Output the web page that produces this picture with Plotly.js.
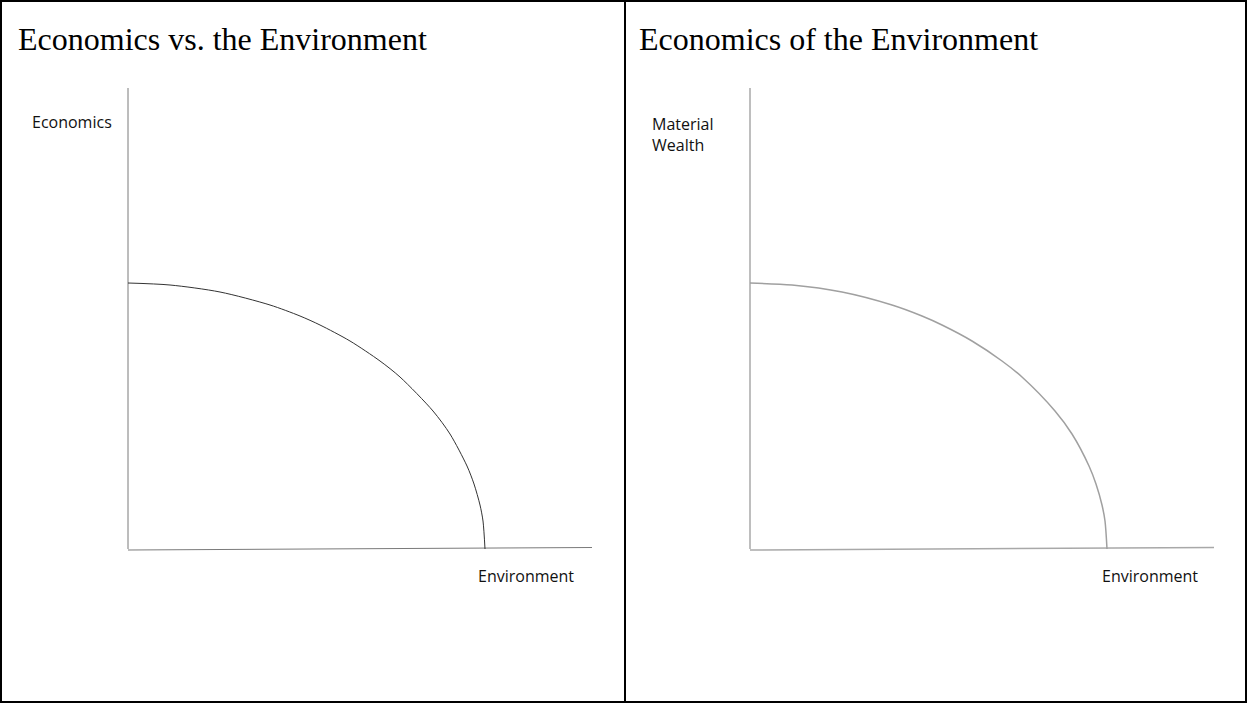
<!DOCTYPE html>
<html>
<head>
<meta charset="utf-8">
<script src="https://cdn.plot.ly/plotly-3.0.1.min.js"></script>
<style>html,body{margin:0;padding:0;background:#fff}#chart{width:1248px;height:704px}</style>
</head>
<body>
<div id="chart"></div>
<script>
// Panel titles and axis labels
const panelTitles = ["Economics vs. the Environment", "Economics of the Environment"];
const yLabels = ["Economics", "Material<br>Wealth"];
const xLabels = ["Environment", "Environment"];

// Axis lines (units measured from the origin of each diagram)
const vAxisX = [0, 0];
const vAxisY = [0, 461];
const hAxisX = [0, 464];
const hAxisY = [-1, 1.5];

// Production-possibility frontier
const frontierEnv = [0, 42, 92, 142, 172, 192, 222, 252, 272, 305, 322, 339, 346, 352, 355, 357];
const frontierEcon = [266, 264, 257, 244, 233, 224, 208, 188, 172, 138, 115, 83, 65, 44, 28, 0];

const traces = [];
function addPanel(xa, ya, axisColor, curveColor, axisW, curveW) {
  traces.push({x: vAxisX, y: vAxisY, xaxis: xa, yaxis: ya, mode: 'lines',
    line: {color: axisColor, width: axisW}, hoverinfo: 'skip', showlegend: false});
  traces.push({x: hAxisX, y: hAxisY, xaxis: xa, yaxis: ya, mode: 'lines',
    line: {color: axisColor, width: axisW}, hoverinfo: 'skip', showlegend: false});
  traces.push({x: frontierEnv, y: frontierEcon, xaxis: xa, yaxis: ya, mode: 'lines',
    line: {color: curveColor, width: curveW, shape: 'spline', smoothing: 0.8}, hoverinfo: 'skip', showlegend: false});
}
addPanel('x', 'y', '#7a7a7a', '#333333', 1, 1);
addPanel('x2', 'y2', '#a8a8a8', '#a0a0a0', 1.5, 1.5);

const hidden = {visible: false, fixedrange: true};
const labelFont = {family: 'Open Sans, sans-serif', size: 16, color: '#111'};
const titleFont = {family: 'Liberation Serif, Times New Roman, serif', size: 32, color: '#000'};

const layout = {
  width: 1248, height: 704,
  margin: {l: 0, r: 0, t: 0, b: 0},
  paper_bgcolor: '#fff', plot_bgcolor: '#fff',
  xaxis: Object.assign({domain: [0, 0.5], range: [-128, 496]}, hidden),
  yaxis: Object.assign({domain: [0, 1], range: [-155, 549]}, hidden),
  xaxis2: Object.assign({domain: [0.5, 1], range: [-126, 498]}, hidden),
  yaxis2: Object.assign({domain: [0, 1], range: [-155, 549], anchor: 'x2'}, hidden),
  showlegend: false,
  annotations: [
    {text: panelTitles[0], xref: 'paper', yref: 'paper', x: 16/1248, y: 1 - 39/704, xanchor: 'left', yanchor: 'middle', showarrow: false, font: titleFont},
    {text: panelTitles[1], xref: 'paper', yref: 'paper', x: 637/1248, y: 1 - 39/704, xanchor: 'left', yanchor: 'middle', showarrow: false, font: titleFont},
    {text: yLabels[0], xref: 'x', yref: 'y', x: -98, y: 427, xanchor: 'left', yanchor: 'middle', showarrow: false, font: labelFont},
    {text: xLabels[0], xref: 'x', yref: 'y', x: 348, y: -27, xanchor: 'left', yanchor: 'middle', showarrow: false, font: labelFont},
    {text: yLabels[1], xref: 'x2', yref: 'y2', x: -100, y: 415, xanchor: 'left', yanchor: 'middle', align: 'left', showarrow: false, font: labelFont},
    {text: xLabels[1], xref: 'x2', yref: 'y2', x: 350, y: -27, xanchor: 'left', yanchor: 'middle', showarrow: false, font: labelFont}
  ],
  shapes: [
    {type: 'rect', xref: 'paper', yref: 'paper', x0: 1/1248, x1: 1246/1248, y0: 1 - 702/704, y1: 1 - 1/704, line: {color: '#000', width: 2}},
    {type: 'line', xref: 'paper', yref: 'paper', x0: 625/1248, x1: 625/1248, y0: 1 - 702/704, y1: 1 - 1/704, line: {color: '#000', width: 2}}
  ]
};

Plotly.newPlot('chart', traces, layout, {displayModeBar: false, staticPlot: true});
</script>
</body>
</html>
